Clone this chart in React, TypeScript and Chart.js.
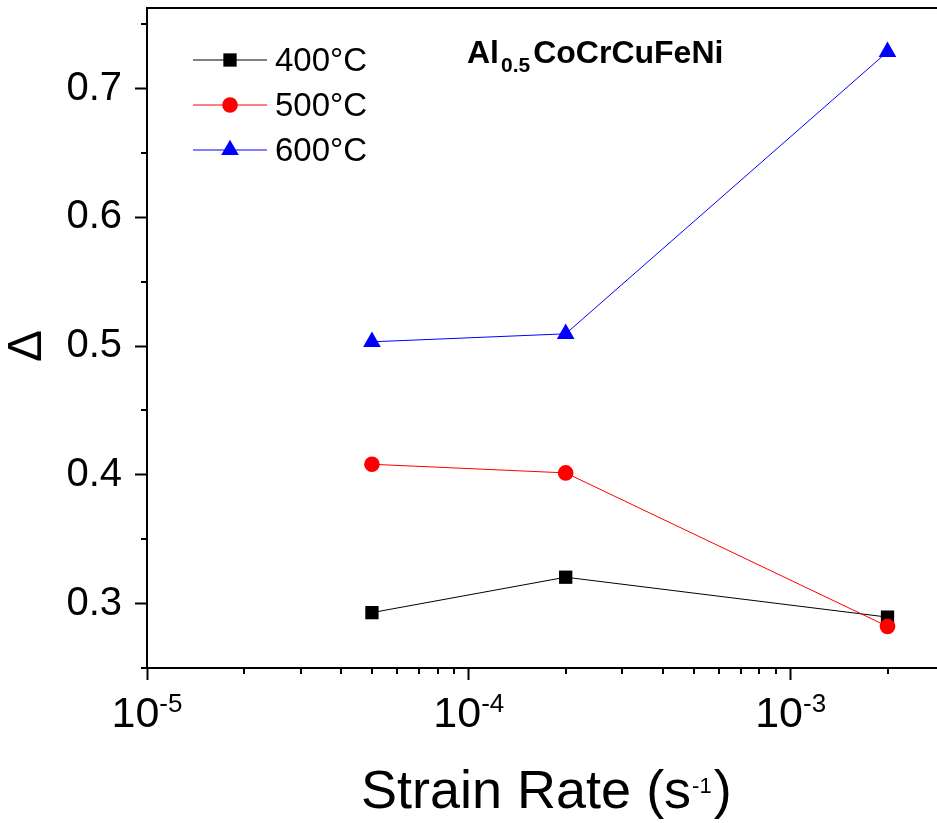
import React, { useEffect, useRef } from 'react';
import { Chart, registerables } from 'chart.js';

Chart.register(...registerables);

// ---- data ----
const strainRates = [5e-5, 2e-4, 2e-3];
const delta400 = [0.293, 0.3205, 0.2895];
const delta500 = [0.4082, 0.4015, 0.2823];
const delta600 = [0.5033, 0.5095, 0.7285];
const seriesLabels = ['400°C', '500°C', '600°C'];
const seriesColors = ['#000000', '#ff0000', '#0000ff'];
const seriesMarkers = ['rect', 'circle', 'triangle'];
const xMajorExponents = [-5, -4, -3];
const xMinorTicks = [
  2e-5, 3e-5, 4e-5, 5e-5, 6e-5, 7e-5, 8e-5, 9e-5,
  2e-4, 3e-4, 4e-4, 5e-4, 6e-4, 7e-4, 8e-4, 9e-4,
  2e-3,
];
const yMajorTicks = [0.3, 0.4, 0.5, 0.6, 0.7];
const yMinorTicks = [0.25, 0.35, 0.45, 0.55, 0.65, 0.75];
const titleMain = 'Al';
const titleSub = '0.5';
const titleRest = 'CoCrCuFeNi';
const xTitleMain = 'Strain Rate (s';
const xTitleSup = '-1';
const xTitleEnd = ')';
const yTitle = 'Δ';

const FONT = '"Liberation Sans", Arial, Helvetica, sans-serif';

function drawMarker(ctx: CanvasRenderingContext2D, style: string, x: number, y: number, r: number, color: string) {
  ctx.fillStyle = color;
  ctx.beginPath();
  if (style === 'rect') {
    const s = Math.SQRT1_2 * r;
    ctx.rect(x - s, y - s, 2 * s, 2 * s);
  } else if (style === 'circle') {
    ctx.arc(x, y, r, 0, Math.PI * 2);
  } else {
    for (let k = 0; k < 3; k++) {
      const a = (k * 2 * Math.PI) / 3;
      const px = x + Math.sin(a) * r;
      const py = y - Math.cos(a) * r;
      if (k === 0) ctx.moveTo(px, py);
      else ctx.lineTo(px, py);
    }
    ctx.closePath();
  }
  ctx.fill();
}

const decorPlugin = {
  id: 'decor',
  afterDraw(chart: any) {
    const { ctx, chartArea } = chart;
    const xs = chart.scales.x;
    const ys = chart.scales.y;
    ctx.save();
    ctx.strokeStyle = '#000';
    ctx.lineWidth = 2;
    // top frame line
    ctx.beginPath();
    ctx.moveTo(chartArea.left - 1, chartArea.top);
    ctx.lineTo(chartArea.right, chartArea.top);
    ctx.stroke();
    // minor ticks
    ctx.beginPath();
    xMinorTicks.forEach((v) => {
      const px = Math.round(xs.getPixelForValue(v));
      ctx.moveTo(px, chartArea.bottom);
      ctx.lineTo(px, chartArea.bottom + 6);
    });
    yMinorTicks.forEach((v) => {
      const py = Math.round(ys.getPixelForValue(v));
      ctx.moveTo(chartArea.left, py);
      ctx.lineTo(chartArea.left - 6, py);
    });
    ctx.stroke();

    ctx.fillStyle = '#000';
    ctx.textBaseline = 'alphabetic';
    ctx.textAlign = 'left';
    // x tick labels 10^n
    xMajorExponents.forEach((e) => {
      const px = xs.getPixelForValue(Math.pow(10, e));
      ctx.font = `43px ${FONT}`;
      const w1 = ctx.measureText('10').width;
      ctx.font = `26px ${FONT}`;
      const expStr = String(e);
      const w2 = ctx.measureText(expStr).width;
      const start = px - (w1 + w2) / 2;
      ctx.font = `43px ${FONT}`;
      ctx.fillText('10', start, 727);
      ctx.font = `26px ${FONT}`;
      ctx.fillText(expStr, start + w1, 712);
    });

    // x title
    ctx.font = `54px ${FONT}`;
    const tw1 = ctx.measureText(xTitleMain).width;
    ctx.font = `22px ${FONT}`;
    const tw2 = ctx.measureText(xTitleSup).width;
    const tx = 361;
    ctx.font = `54px ${FONT}`;
    ctx.fillText(xTitleMain, tx, 808);
    ctx.font = `22px ${FONT}`;
    ctx.fillText(xTitleSup, tx + tw1 + 1, 793);
    ctx.font = `54px ${FONT}`;
    ctx.fillText(xTitleEnd, tx + tw1 + tw2 + 3, 808);

    // y title (rotated)
    ctx.save();
    ctx.translate(28, ys.getPixelForValue(0.5));
    ctx.rotate(-Math.PI / 2);
    ctx.font = `48px ${FONT}`;
    ctx.textAlign = 'center';
    ctx.textBaseline = 'middle';
    ctx.fillText(yTitle, 0, 0);
    ctx.restore();

    // plot title
    ctx.textAlign = 'left';
    ctx.textBaseline = 'alphabetic';
    ctx.font = `bold 32px ${FONT}`;
    let cx = 467;
    ctx.fillText(titleMain, cx, 63);
    cx += ctx.measureText(titleMain).width + 2;
    ctx.font = `bold 21px ${FONT}`;
    ctx.fillText(titleSub, cx, 72);
    cx += ctx.measureText(titleSub).width + 3;
    ctx.font = `bold 32px ${FONT}`;
    ctx.fillText(titleRest, cx, 63);

    // legend
    const rows = [60, 105, 150];
    chart.data.datasets.forEach((ds: any, i: number) => {
      const y = rows[i];
      ctx.strokeStyle = ds.borderColor;
      ctx.lineWidth = 1;
      ctx.beginPath();
      ctx.moveTo(193, y);
      ctx.lineTo(267, y);
      ctx.stroke();
      drawMarker(ctx, ds.pointStyle, 230, y, ds.pointRadius, ds.pointBackgroundColor);
      ctx.fillStyle = '#000';
      ctx.font = `33px ${FONT}`;
      ctx.fillText(ds.label, 275, y + 11);
    });
    ctx.restore();
  },
};

export default function App() {
  const canvasRef = useRef<HTMLCanvasElement | null>(null);

  useEffect(() => {
    if (!canvasRef.current) return;
    const series = [delta400, delta500, delta600];
    const radii = [9.4, 7.8, 10.2];
    const datasets = series.map((vals, i) => ({
      label: seriesLabels[i],
      data: strainRates.map((x, j) => ({ x, y: vals[j] })),
      borderColor: seriesColors[i],
      backgroundColor: seriesColors[i],
      borderWidth: 1,
      pointStyle: seriesMarkers[i],
      pointRadius: radii[i],
      pointBorderWidth: 0,
      pointBackgroundColor: seriesColors[i],
      pointBorderColor: seriesColors[i],
      order: 3 - i,
      tension: 0,
      fill: false,
    }));

    const gridOpts = {
      display: true,
      drawOnChartArea: false,
      drawTicks: true,
      tickLength: 12,
      tickWidth: 2,
      tickColor: '#000',
    };

    const chart = new Chart(canvasRef.current, {
      type: 'line',
      data: { datasets },
      plugins: [decorPlugin],
      options: {
        responsive: false,
        animation: false,
        devicePixelRatio: 1,
        layout: { autoPadding: false, padding: { top: 8, left: 0, right: 0, bottom: 0 } },
        plugins: {
          legend: { display: false },
          tooltip: { enabled: false },
          title: { display: false },
        },
        scales: {
          x: {
            type: 'logarithmic',
            min: 1e-5,
            max: 2.85e-3,
            afterBuildTicks: (s: any) => {
              s.ticks = xMajorExponents.map((e) => ({ value: Math.pow(10, e), major: true }));
            },
            afterFit: (s: any) => {
              s.height = 155;
              s.paddingLeft = 0;
              s.paddingRight = 0;
            },
            ticks: { display: false },
            grid: gridOpts,
            border: { display: true, color: '#000', width: 2 },
          },
          y: {
            type: 'linear',
            min: 0.25,
            max: 0.7625,
            afterBuildTicks: (s: any) => {
              s.ticks = yMajorTicks.map((v) => ({ value: v }));
            },
            afterFit: (s: any) => {
              s.width = 147;
              s.paddingTop = 0;
              s.paddingBottom = 0;
            },
            ticks: {
              font: { family: FONT, size: 40 },
              color: '#000',
              padding: 13,
              callback: (v: any) => Number(v).toFixed(1),
            },
            grid: gridOpts,
            border: { display: true, color: '#000', width: 2 },
          },
        },
      } as any,
    });
    return () => chart.destroy();
  }, []);

  return (
    <div style={{ position: 'absolute', left: 0, top: 0, width: 937, height: 823, background: '#fff' }}>
      <canvas ref={canvasRef} width={937} height={823} style={{ display: 'block' }} />
    </div>
  );
}
